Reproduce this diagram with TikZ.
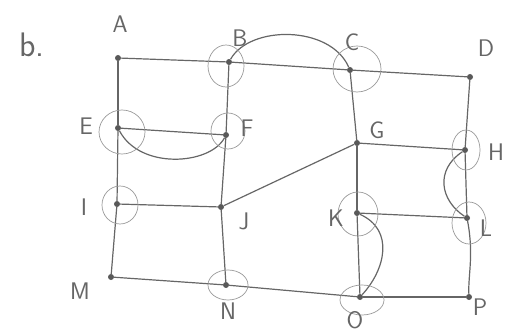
\documentclass[tikz,border=0pt]{standalone}
\usepackage{fontspec}
\setmainfont{DejaVu Sans}
\begin{document}
\begin{tikzpicture}[x=1pt,y=-1pt,
  vtx/.style={circle,fill=black!65,inner sep=0pt,minimum size=6pt},
  edge/.style={draw=black!60,line width=1.2pt},
  ring/.style={draw=black!40,line width=0.7pt},
  lbl/.style={text=black!60,font=\fontsize{24}{24}\selectfont\sffamily}]
\useasboundingbox (0,0) rectangle (518,336);
% vertices
\node[vtx] (A) at (118,58) {};
\node[vtx] (B) at (229,62) {};
\node[vtx] (C) at (350,70) {};
\node[vtx] (D) at (470,77) {};
\node[vtx] (E) at (118,128) {};
\node[vtx] (F) at (226,135) {};
\node[vtx] (G) at (357,143) {};
\node[vtx] (H) at (465,150) {};
\node[vtx] (I) at (117,204) {};
\node[vtx] (J) at (221,207) {};
\node[vtx] (K) at (357,213) {};
\node[vtx] (L) at (467,218) {};
\node[vtx] (M) at (111,277) {};
\node[vtx] (N) at (226,285) {};
\node[vtx] (O) at (360,297) {};
\node[vtx] (P) at (469,297) {};
% straight edges
\draw[edge] (A) -- (B); \draw[edge] (B) -- (C); \draw[edge] (C) -- (D);
\draw[edge] (E) -- (F); \draw[edge] (G) -- (H);
\draw[edge] (I) -- (J); \draw[edge] (K) -- (L);
\draw[edge] (M) -- (N); \draw[edge] (N) -- (O); \draw[edge] (O) -- (P);
\draw[edge] (A) -- (E); \draw[edge] (E) -- (I); \draw[edge] (I) -- (M);
\draw[edge] (B) -- (F); \draw[edge] (F) -- (J); \draw[edge] (J) -- (N);
\draw[edge] (C) -- (G); \draw[edge] (G) -- (K); \draw[edge] (K) -- (O);
\draw[edge] (D) -- (H); \draw[edge] (H) -- (L); \draw[edge] (L) .. controls (474,255) and (468,275) .. (P);
\draw[edge] (J) -- (G);
% curved edges
\draw[edge] (B) .. controls (250,25) and (330,25) .. (C);
\draw[edge] (E) .. controls (140,170) and (210,165) .. (F);
\draw[edge] (H) .. controls (435,170) and (440,200) .. (L);
\draw[edge] (K) .. controls (395,230) and (385,270) .. (O);
% rings
\draw[ring] (226,66) ellipse (18 and 21);
\draw[ring] (357,69) ellipse (24 and 23);
\draw[ring] (122,132) ellipse (23 and 22);
\draw[ring] (228,131) ellipse (17 and 18);
\draw[ring] (120,205) ellipse (18 and 19);
\draw[ring] (228,285) ellipse (20 and 15);
\draw[ring] (362,300) ellipse (22 and 15);
\draw[ring] (466,150) ellipse (14 and 20);
\draw[ring] (358,214) ellipse (20 and 22);
\draw[ring] (469,223) ellipse (17 and 21);
% labels
\node[lbl,font=\fontsize{34}{34}\selectfont\sffamily] (lb) at (32,45) {b.};
\node[lbl] (lA) at (120,24) {A};
\node[lbl] (lB) at (240,38) {B};
\node[lbl] (lC) at (352,42) {C};
\node[lbl] (lD) at (486,48) {D};
\node[lbl] (lE) at (86,126) {E};
\node[lbl] (lF) at (247,128) {F};
\node[lbl] (lG) at (377,130) {G};
\node[lbl] (lH) at (496,152) {H};
\node[lbl] (lI) at (84,207) {I};
\node[lbl] (lJ) at (244,221) {J};
\node[lbl] (lK) at (336,218) {K};
\node[lbl] (lL) at (486,228) {L};
\node[lbl] (lM) at (80,291) {M};
\node[lbl] (lN) at (228,311) {N};
\node[lbl] (lO) at (355,320) {O};
\node[lbl] (lP) at (480,307) {P};
\end{tikzpicture}
\end{document}
